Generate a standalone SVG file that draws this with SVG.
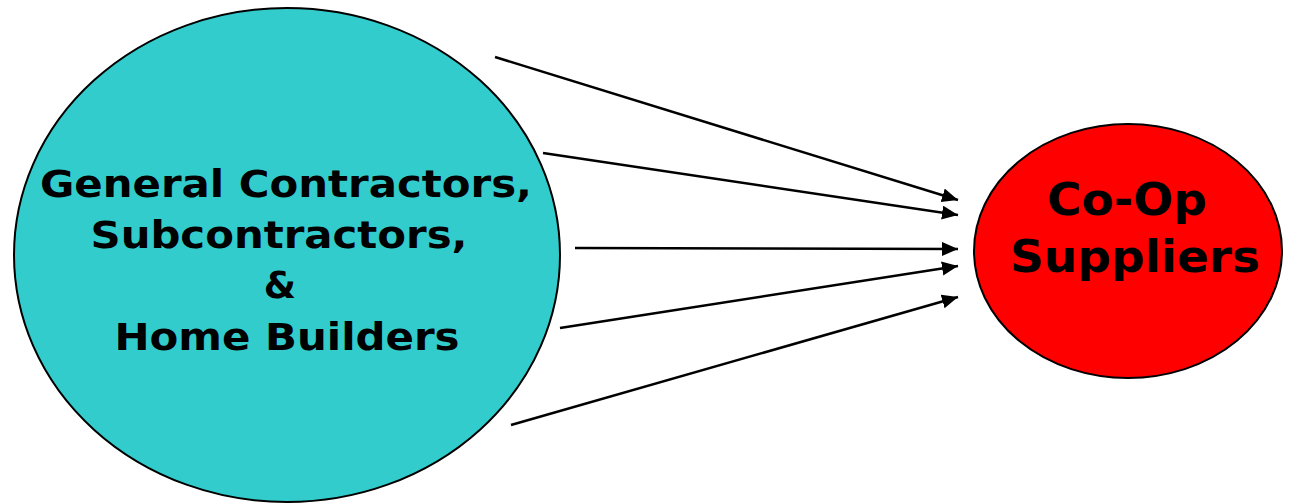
<svg xmlns="http://www.w3.org/2000/svg" width="1298" height="504" viewBox="0 0 1298 504">
<style>
.node{stroke:#000;stroke-width:2}
.lbl{font-family:"DejaVu Sans",Verdana,sans-serif;font-weight:bold;fill:#000;text-anchor:middle}
.conn line{stroke:#000;stroke-width:2.5;marker-end:url(#ah)}
</style>
<defs>
<marker id="ah" markerUnits="userSpaceOnUse" markerWidth="18" markerHeight="16" refX="16" refY="7" orient="auto">
<path d="M0,0 L16,7 L0,14 z" fill="#000"/>
</marker>
</defs>
<rect width="1298" height="504" fill="#fff"/>
<g id="contractors">
<ellipse class="node" cx="287" cy="255" rx="273" ry="247" fill="#33CCCC"/>
<text class="lbl" font-size="37" x="286" y="197" textLength="492" lengthAdjust="spacingAndGlyphs">General Contractors,</text>
<text class="lbl" font-size="37" x="279" y="248" textLength="377" lengthAdjust="spacingAndGlyphs">Subcontractors,</text>
<text class="lbl" font-size="37" x="280" y="298">&amp;</text>
<text class="lbl" font-size="37" x="287" y="350" textLength="345" lengthAdjust="spacingAndGlyphs">Home Builders</text>
</g>
<g id="suppliers">
<ellipse class="node" cx="1128" cy="251" rx="154" ry="127" fill="#FF0000"/>
<text class="lbl" font-size="45" x="1127" y="215" textLength="160" lengthAdjust="spacingAndGlyphs">Co-Op</text>
<text class="lbl" font-size="45" x="1135" y="272" textLength="250" lengthAdjust="spacingAndGlyphs">Suppliers</text>
</g>
<g id="connectors" class="conn">
<line x1="495" y1="57" x2="958" y2="200"/>
<line x1="543" y1="153" x2="958" y2="215"/>
<line x1="575" y1="248" x2="958" y2="249"/>
<line x1="560" y1="328" x2="958" y2="266"/>
<line x1="511" y1="425" x2="958" y2="297"/>
</g>
</svg>
